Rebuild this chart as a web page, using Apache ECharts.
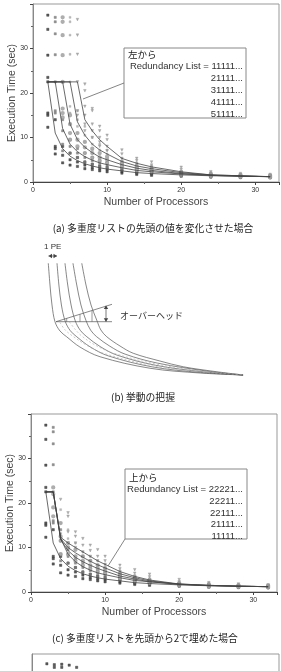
<!DOCTYPE html>
<html><head><meta charset="utf-8">
<script src="https://cdn.jsdelivr.net/npm/echarts@6/dist/echarts.min.js"></script>
<style>html,body{margin:0;padding:0;background:#fff}#c{width:281px;height:671px}</style>
</head><body><div id="c"></div>
<script>
// ---------- Panel (a): vary head of redundancy list ----------
const aNames = ['11111...', '21111...', '31111...', '41111...', '51111...'];
const aLine1 = [[2,22.5],[3,11],[4,7.5],[5,5.8],[6,4.8],[7,4.1],[8,3.6],[9,3.2],[10,2.9],[12,2.5],[14,2.1],[16,1.9],[20,1.6],[24,1.4],[28,1.3],[32,1.2]];
const aLine2 = [[2,22.5],[3,22.5],[4,12],[5,8.5],[6,6.8],[7,5.7],[8,4.9],[9,4.3],[10,3.9],[12,3.2],[14,2.6],[16,2.3],[20,1.8],[24,1.5],[28,1.3],[32,1.2]];
const aLine3 = [[2,22.5],[3,22.5],[4,22.5],[5,13],[6,9.5],[7,7.8],[8,6.6],[9,5.6],[10,5.0],[12,3.9],[14,3.1],[16,2.6],[20,1.9],[24,1.5],[28,1.3],[32,1.2]];
const aLine4 = [[2,22.5],[3,22.5],[4,22.5],[5,22.5],[6,13.5],[7,10.5],[8,8.5],[9,7.2],[10,6.3],[12,4.6],[14,3.6],[16,3.0],[20,2.1],[24,1.6],[28,1.4],[32,1.2]];
const aLine5 = [[2,22.5],[3,22.5],[4,22.5],[5,22.5],[6,22.5],[7,14],[8,11.5],[9,9.5],[10,8],[12,5.3],[14,4.2],[16,3.4],[20,2.3],[24,1.6],[28,1.4],[32,1.2]];

const aPts1 = [[2,37.5],[2,34.3],[2,28.5],[2,23.5],[2,22.5],[2,15.5],[2,15],[2,12.3],[3,14],[3,8],[3,7.5],[3,6.3],[4,8],[4,6],[4,4.3],[5,6.5],[5,5],[5,3.8],[6,5.5],[6,4.5],[6,3.5],[7,4.5],[7,3.8],[7,3.0],[8,4],[8,3.3],[8,2.8],[9,3.6],[9,3.0],[9,2.5],[10,3.3],[10,2.8],[10,2.3],[12,2.8],[12,2.4],[12,2.0],[14,2.4],[14,2.0],[14,1.7],[16,2.1],[16,1.8],[16,1.5],[20,1.8],[20,1.5],[20,1.3],[24,1.6],[24,1.3],[24,1.1],[28,1.5],[28,1.2],[28,1.0],[32,1.4],[32,1.2],[32,1.0]];
const aPts2 = [[3,37],[3,36],[3,33.3],[3,28.6],[3,22.5],[3,16],[3,15.5],[4,14],[4,11.5],[4,8.5],[4,7],[5,9.5],[5,8],[5,6.5],[6,7.5],[6,6.5],[6,5.5],[7,6.5],[7,5.5],[7,4.5],[8,5.5],[8,4.8],[8,4],[9,4.8],[9,4.2],[9,3.5],[10,4.4],[10,3.8],[10,3.2],[12,3.6],[12,3.1],[12,2.7],[14,3.0],[14,2.6],[14,2.2],[16,2.6],[16,2.3],[16,2.0],[20,2.0],[20,1.7],[20,1.5],[24,1.7],[24,1.4],[24,1.2],[28,1.5],[28,1.3],[28,1.1],[32,1.4],[32,1.2],[32,1.0]];
const aPts3 = [[4,37],[4,36],[4,33],[4,28.5],[4,22.5],[4,16.5],[4,15.5],[4,14.5],[5,15],[5,13],[5,11],[5,9.5],[6,11],[6,9.5],[6,8],[7,9],[7,7.8],[7,6.5],[8,7.5],[8,6.5],[8,5.5],[9,6.5],[9,5.5],[9,4.8],[10,5.7],[10,5.0],[10,4.3],[12,4.4],[12,3.9],[12,3.4],[14,3.5],[14,3.1],[14,2.7],[16,3.0],[16,2.6],[16,2.3],[20,2.2],[20,1.9],[20,1.6],[24,1.8],[24,1.5],[24,1.3],[28,1.6],[28,1.3],[28,1.1],[32,1.5],[32,1.2],[32,1.0]];
const aPts4 = [[5,37],[5,36],[5,33],[5,28.7],[5,22.5],[5,17],[5,15.5],[6,16],[6,14],[6,12.5],[6,11],[7,12.5],[7,10.5],[7,9],[8,10],[8,8.5],[8,7.2],[9,8.5],[9,7.2],[9,6.2],[10,7.2],[10,6.3],[10,5.4],[12,5.3],[12,4.6],[12,4.0],[14,4.1],[14,3.6],[14,3.1],[16,3.4],[16,3.0],[16,2.6],[20,2.4],[20,2.1],[20,1.8],[24,1.9],[24,1.6],[24,1.4],[28,1.6],[28,1.4],[28,1.2],[32,1.5],[32,1.2],[32,1.0]];
const aPts5 = [[6,36.5],[6,33],[6,28.7],[6,22.5],[6,16],[6,15],[7,22],[7,20.5],[7,17],[7,15],[7,13],[7,11.5],[8,16.5],[8,16],[8,13],[8,11.5],[8,10],[9,12.5],[9,11.5],[9,10],[9,9],[9,8],[10,10.5],[10,9.5],[10,8],[10,7],[12,7.2],[12,6.3],[12,5.3],[12,4.6],[14,5.3],[14,4.8],[14,4.2],[14,3.7],[16,4.5],[16,3.8],[16,3.4],[16,3.0],[20,3.3],[20,2.8],[20,2.3],[20,2.0],[24,2.3],[24,2.0],[24,1.7],[28,1.9],[28,1.6],[28,1.3],[32,1.7],[32,1.4],[32,1.1]];

// ---------- Panel (c): fill head of list with 2 ----------
const cNames = ['22221...', '22211...', '22111...', '21111...', '11111...'];
const cLine1 = [[2,22.5],[3,22.5],[4,12.3],[5,11],[6,10],[7,9],[8,8],[9,7],[10,6.2],[12,4.6],[14,3.5],[16,2.7],[20,1.8],[24,1.5],[28,1.3],[32,1.2]];
const cLine2 = [[2,22.5],[3,22.5],[4,12],[5,10],[6,8.8],[7,7.8],[8,6.9],[9,6.1],[10,5.4],[12,4.1],[14,3.2],[16,2.5],[20,1.75],[24,1.45],[28,1.3],[32,1.2]];
const cLine3 = [[2,22.5],[3,22.5],[4,11.8],[5,9.3],[6,7.8],[7,6.8],[8,6.0],[9,5.3],[10,4.7],[12,3.6],[14,2.9],[16,2.3],[20,1.7],[24,1.45],[28,1.3],[32,1.2]];
const cPts1 = [[4,20.8],[4,13],[4,12],[5,17.8],[5,17],[5,13.5],[5,11],[6,13.5],[6,12.5],[6,11],[6,10],[7,12],[7,10.5],[7,9],[7,8],[8,10.5],[8,9.3],[8,8],[8,7],[9,9.5],[9,8],[9,7],[9,6],[10,8],[10,7],[10,6.2],[10,5.4],[12,6],[12,5.2],[12,4.6],[12,4],[14,5],[14,4.2],[14,3.5],[14,3],[16,4],[16,3.4],[16,2.7],[16,2.3],[20,2.8],[20,2.3],[20,1.8],[20,1.5],[24,2.1],[24,1.8],[24,1.5],[24,1.3],[28,1.8],[28,1.5],[28,1.3],[28,1.1],[32,1.6],[32,1.3],[32,1.1],[32,0.9]];
const cPts2 = [[4,18.5],[4,15.5],[4,12.5],[5,14],[5,12],[5,10],[6,11],[6,9.5],[6,8],[7,9],[7,8],[7,6.8],[8,8],[8,7],[8,6],[9,7],[9,6.1],[9,5.3],[10,6.2],[10,5.4],[10,4.7],[12,4.7],[12,4.1],[12,3.6],[14,3.7],[14,3.2],[14,2.8],[16,3.0],[16,2.5],[16,2.2],[20,2.1],[20,1.8],[20,1.6],[24,1.7],[24,1.5],[24,1.3],[28,1.5],[28,1.3],[28,1.1],[32,1.4],[32,1.2],[32,1.0]];
const cPts3 = [[3,23.5],[3,22],[3,19],[3,17],[4,15.5],[4,12.5],[4,11.5],[4,8.5],[5,11],[5,10],[5,8.5],[6,9.5],[6,8],[6,7],[7,8],[7,7],[7,6],[8,7],[8,6],[8,5.2],[9,6],[9,5.3],[9,4.6],[10,5.3],[10,4.7],[10,4.1],[12,4.1],[12,3.6],[12,3.1],[14,3.3],[14,2.9],[14,2.5],[16,2.7],[16,2.3],[16,2.0],[20,2.0],[20,1.7],[20,1.5],[24,1.7],[24,1.4],[24,1.2],[28,1.5],[28,1.3],[28,1.1],[32,1.4],[32,1.2],[32,1.0]];

// ---------- Panel (d), partially visible ----------
const dPts = [[2,37.8],[3,37.6],[3,37],[4,37.7],[4,37],[5,37.5],[6,37]];

// ---------- Panel (b): schematic curves (abstract units) ----------
const bCurve1 = [[3.95,93.4],[4.76,76],[5.71,60],[7.14,46.6],[9.52,39.2],[12.7,34.6],[19.0,26.4],[28.6,18.6],[52.4,9.4],[76.2,5.6],[96.7,4.0]];
const bCurve2 = [[8.1,93.4],[9.0,76],[10.2,60],[12.0,47],[14.4,39.5],[17.5,34.6],[23.8,26.6],[32.5,19.3],[53.5,10.5],[76.5,6.0],[96.7,4.0]];
const bCurve3 = [[11.9,93.4],[13.2,76],[14.8,60],[16.8,47.3],[19.2,39.7],[22.3,34.6],[28.6,26.8],[36.5,20],[55,11.8],[78,6.5],[96.7,4.0]];
const bCurve4 = [[15.7,93.4],[17.5,76],[19.5,60],[21.9,47.6],[24.1,39.9],[27.0,34.6],[33.3,27],[40.5,20.7],[56,13.5],[80,7],[96.7,4.0]];
const bCurve5 = [[19.9,93.4],[21.9,76],[24.3,60],[27.0,48],[29.0,40],[31.8,34.6],[38.1,27.2],[44.4,21.4],[57.1,15.2],[68.2,10.6],[83.3,6.8],[96.7,4.0]];
const bDash1 = [[9.5,46],[12,40],[16,34.6],[22,28],[30,21.5],[54,11.2],[78,6.3],[96.7,4.2]];
const bDash2 = [[14,46.5],[17,40],[20,35],[26,28.2],[35,21.5],[56,12.5],[79,6.8],[96.7,4.3]];

const xTicks = [0, 10, 20, 30];
const yTicks = [0, 10, 20, 30];

const FONT = 'Liberation Sans, Arial, sans-serif';
const JP = '"Noto Sans CJK JP", sans-serif';

function mkX(gi, showName, showLabels) {
  return {
    gridIndex: gi, type: 'value', min: 0, max: 33.2, interval: 10,
    axisLine: {lineStyle: {color: '#444', width: 1}},
    axisTick: {show: showLabels, length: 3, lineStyle: {color: '#444'}},
    minorTick: {show: showLabels, splitNumber: 2, length: 2, lineStyle: {color: '#666'}},
    axisLabel: {show: showLabels, fontSize: 7, color: '#333', fontFamily: FONT, margin: 5, showMaxLabel: false,
      formatter: v => xTicks.includes(v) ? String(v) : ''},
    splitLine: {show: false},
    name: showName ? 'Number of Processors' : '', nameLocation: 'middle', nameGap: 15, nameMoveOverlap: false,
    nameTextStyle: {fontSize: 10.5, color: '#444', fontFamily: FONT}
  };
}
function mkY(gi, showName, showLabels) {
  return {
    gridIndex: gi, type: 'value', min: 0, max: 40, interval: 10,
    axisLine: {lineStyle: {color: '#888', width: 1}},
    axisTick: {show: showLabels, length: 3, lineStyle: {color: '#444'}},
    minorTick: {show: showLabels, splitNumber: 2, length: 2, lineStyle: {color: '#666'}},
    axisLabel: {show: showLabels, fontSize: 7, color: '#333', fontFamily: FONT, margin: 5, showMaxLabel: false,
      formatter: v => yTicks.includes(v) ? String(v) : ''},
    splitLine: {show: false},
    name: showName ? 'Execution Time (sec)' : '', nameLocation: 'middle', nameGap: 15, nameMoveOverlap: false,
    nameTextStyle: {fontSize: 10.5, color: '#444', fontFamily: FONT}
  };
}
const symStyles = [
  {symbol: 'rect', color: '#333', size: 2.3},
  {symbol: 'rect', color: '#777', size: 2.2},
  {symbol: 'emptyCircle', color: '#999', size: 2.3},
  {symbol: 'rect', color: '#aaa', size: 1.9},
  {symbol: 'triangle', color: '#999', size: 2.6, rotate: 180}
];
function scat(name, data, gi, st) {
  return {type: 'scatter', name, data, xAxisIndex: gi, yAxisIndex: gi,
    symbol: st.symbol, symbolSize: st.size, symbolRotate: st.rotate || 0,
    itemStyle: {color: st.color, borderColor: st.color, borderWidth: 0.5}, silent: true, z: 2};
}
function line(name, data, gi, opts) {
  opts = opts || {};
  return {type: 'line', name, data, xAxisIndex: gi, yAxisIndex: gi, showSymbol: false,
    smooth: opts.smooth || false,
    lineStyle: {color: opts.color || '#444', width: opts.width || 0.8, type: opts.type || 'solid'},
    silent: true, z: 3};
}

const series = [
  scat(aNames[0], aPts1, 0, symStyles[0]), scat(aNames[1], aPts2, 0, symStyles[1]),
  scat(aNames[2], aPts3, 0, symStyles[2]), scat(aNames[3], aPts4, 0, symStyles[3]),
  scat(aNames[4], aPts5, 0, symStyles[4]),
  line(aNames[0], aLine1, 0), line(aNames[1], aLine2, 0), line(aNames[2], aLine3, 0),
  line(aNames[3], aLine4, 0), line(aNames[4], aLine5, 0),

  scat(cNames[4], aPts1, 1, symStyles[0]), scat(cNames[3], aPts2, 1, symStyles[1]),
  scat(cNames[2], cPts3, 1, symStyles[2]), scat(cNames[1], cPts2, 1, symStyles[3]),
  scat(cNames[0], cPts1, 1, symStyles[4]),
  line(cNames[0], cLine1, 1), line(cNames[1], cLine2, 1), line(cNames[2], cLine3, 1),
  line(cNames[3], aLine2, 1), line(cNames[4], aLine1, 1),

  scat('d', dPts, 2, symStyles[0]),

  line('b1', bCurve1, 3, {smooth: 0.35, color: '#555', width: 0.7}),
  line('b2', bCurve2, 3, {smooth: 0.35, color: '#555', width: 0.7}),
  line('b3', bCurve3, 3, {smooth: 0.35, color: '#555', width: 0.7}),
  line('b4', bCurve4, 3, {smooth: 0.35, color: '#555', width: 0.7}),
  line('b5', bCurve5, 3, {smooth: 0.35, color: '#555', width: 0.7}),
  line('bd1', bDash1, 3, {smooth: 0.35, color: '#aaa', width: 0.6, type: [2, 2]}),
  line('bd2', bDash2, 3, {smooth: 0.35, color: '#aaa', width: 0.6, type: [2, 2]})
];

const gridBase = {show: true, borderColor: '#999', borderWidth: 1, backgroundColor: 'transparent',
  containLabel: false, outerBoundsMode: 'none'};

function txt(x, y, s, o) {
  o = o || {};
  return {type: 'text', x, y, silent: true, z: 20,
    style: {text: s, fontSize: o.size || 10, fontFamily: o.font || FONT, fill: o.color || '#222',
      textAlign: o.align || 'left', textVerticalAlign: 'middle', fontWeight: o.weight || 'normal'}};
}
function ln(x1, y1, x2, y2, o) {
  o = o || {};
  return {type: 'line', silent: true, z: 20, shape: {x1, y1, x2, y2},
    style: {stroke: o.color || '#555', lineWidth: o.width || 0.8}};
}
function arrowHead(x, y, dir) {
  const s = 2.2;
  let pts;
  if (dir === 'up') pts = [[x, y], [x - s, y + s * 1.6], [x + s, y + s * 1.6]];
  if (dir === 'down') pts = [[x, y], [x - s, y - s * 1.6], [x + s, y - s * 1.6]];
  if (dir === 'left') pts = [[x, y], [x + s * 1.6, y - s], [x + s * 1.6, y + s]];
  if (dir === 'right') pts = [[x, y], [x - s * 1.6, y - s], [x - s * 1.6, y + s]];
  return {type: 'polygon', silent: true, z: 21, shape: {points: pts}, style: {fill: '#444'}};
}

const graphic = [
  {type: 'rect', silent: true, z: 15, shape: {x: 124, y: 48, width: 122, height: 70}, style: {fill: '#fff', stroke: '#888', lineWidth: 1}},
  ln(124, 83, 83, 99, {color: '#666'}),
  txt(128, 54, '左から', {font: JP, size: 9.5}),
  txt(243, 66.5, 'Redundancy List = ' + aNames[0], {align: 'right', size: 9.5, color: '#333'}),
  txt(243, 78.5, aNames[1], {align: 'right', size: 9.5, color: '#333'}),
  txt(243, 90.5, aNames[2], {align: 'right', size: 9.5, color: '#333'}),
  txt(243, 102.5, aNames[3], {align: 'right', size: 9.5, color: '#333'}),
  txt(243, 114, aNames[4], {align: 'right', size: 9.5, color: '#333'}),
  txt(153, 228, '(a) 多重度リストの先頭の値を変化させた場合', {font: JP, size: 9.8, align: 'center'}),

  txt(44, 247, '1 PE', {size: 8, color: '#333'}),
  ln(48.5, 256, 57, 256, {color: '#444', width: 0.7}),
  arrowHead(48.5, 256, 'left'), arrowHead(57, 256, 'right'),
  ln(56, 321.7, 112, 321.7, {color: '#555', width: 0.7}),
  ln(56, 321.7, 112, 304.3, {color: '#555', width: 0.7}),
  ln(66.7, 318.4, 66.7, 321.7, {color: '#555', width: 0.6}),
  ln(80, 314.3, 80, 321.7, {color: '#555', width: 0.6}),
  ln(92, 310.6, 92, 321.7, {color: '#555', width: 0.6}),
  ln(106, 306, 106, 321.5, {color: '#444', width: 0.7}),
  arrowHead(106, 305.5, 'up'), arrowHead(106, 321.7, 'down'),
  txt(120, 316, 'オーバーヘッド', {font: JP, size: 9, color: '#333'}),
  txt(143, 397, '(b) 挙動の把握', {font: JP, size: 9.8, align: 'center'}),

  {type: 'rect', silent: true, z: 15, shape: {x: 125, y: 469, width: 122, height: 70}, style: {fill: '#fff', stroke: '#888', lineWidth: 1}},
  ln(125, 539, 108, 566, {color: '#666'}),
  txt(129, 477, '上から', {font: JP, size: 9.5}),
  txt(243, 489, 'Redundancy List = ' + cNames[0], {align: 'right', size: 9.5, color: '#333'}),
  txt(243, 501, cNames[1], {align: 'right', size: 9.5, color: '#333'}),
  txt(243, 513, cNames[2], {align: 'right', size: 9.5, color: '#333'}),
  txt(243, 524.5, cNames[3], {align: 'right', size: 9.5, color: '#333'}),
  txt(243, 536, cNames[4], {align: 'right', size: 9.5, color: '#333'}),
  txt(145, 638, '(c) 多重度リストを先頭から2で埋めた場合', {font: JP, size: 9.8, align: 'center'})
];

const chart = echarts.init(document.getElementById('c'), null, {renderer: 'canvas'});
chart.setOption({
  animation: false,
  backgroundColor: '#fff',
  grid: [
    Object.assign({left: 33, top: 4, width: 246, height: 178}, gridBase),
    Object.assign({left: 31, top: 414, width: 246, height: 178}, gridBase),
    Object.assign({left: 32, top: 654, width: 247, height: 178}, gridBase),
    {left: 40, top: 255, width: 210, height: 125, show: false, containLabel: false, outerBoundsMode: 'none'}
  ],
  xAxis: [mkX(0, true, true), mkX(1, true, true), mkX(2, false, false),
    {gridIndex: 3, type: 'value', min: 0, max: 100, show: false}],
  yAxis: [mkY(0, true, true), mkY(1, true, true), mkY(2, false, false),
    {gridIndex: 3, type: 'value', min: 0, max: 100, show: false}],
  series,
  graphic
});
</script></body></html>
